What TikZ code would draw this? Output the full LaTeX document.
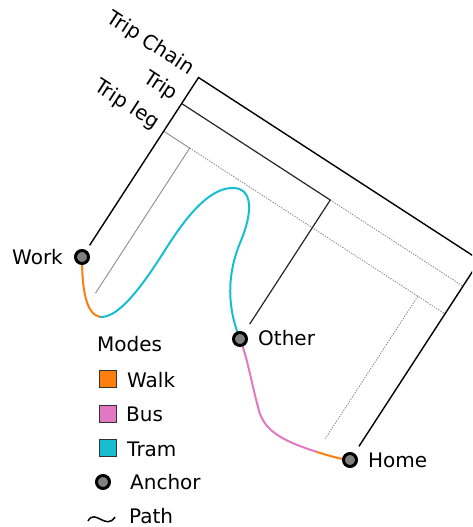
\documentclass[tikz,border=0pt]{standalone}
\usepackage{fontspec}
\setmainfont{DejaVu Sans}
\definecolor{walkc}{HTML}{FF7F0E}
\definecolor{busc}{HTML}{E377C2}
\definecolor{tramc}{HTML}{17BECF}
\definecolor{anchorfill}{HTML}{7F7F7F}
\begin{document}
\begin{tikzpicture}[x=1pt,y=-1pt,font=\fontsize{20}{24}\selectfont,
  anchorpt/.style={circle,draw=black,line width=3pt,fill=anchorfill,minimum size=13pt,inner sep=0pt},
  lbl/.style={inner sep=0pt},
  lvl/.style={inner sep=0pt,anchor=east,rotate=-33},
  chainln/.style={black,line width=1.4pt},
  tripln/.style={black!85,line width=1.2pt},
  legln/.style={black!45,line width=0.9pt},
  dotln/.style={black!50,line width=0.8pt,dash pattern=on 1.3pt off 1.3pt},
  modeln/.style={line width=2pt},
  sq/.style={draw=black!80,line width=1pt,minimum size=17pt,inner sep=0pt}]
\useasboundingbox (0,0) rectangle (472,527);
\clip (0,0) rectangle (472,527);
% anchor positions
\coordinate (pW) at (82,257);
\coordinate (pO) at (240,339);
\coordinate (pH) at (350,460);
% hierarchy brackets in the rotated frame
\begin{scope}[shift={(82,257)}]
\begin{scope}[x={(0.8387pt,-0.5446pt)},y={(0.5446pt,0.8387pt)}]
  \coordinate (cbl) at (0,14);
  \coordinate (ctl) at (0,214);
  \coordinate (ctr) at (335.4,214);
  \coordinate (cbr) at (335.4,-8);
  \coordinate (tl) at (0,183);
  \coordinate (tm) at (177.2,183);
  \coordinate (tmb) at (177.2,35);
  \coordinate (tr) at (335.4,183);
  \coordinate (ll) at (0,150);
  \coordinate (l1) at (31,150);
  \coordinate (l1b) at (31,-23);
  \coordinate (l3) at (303,150);
  \coordinate (l3b) at (303,-20);
  \coordinate (lr) at (335.4,150);
  \draw[legln] (ll) -- (l1) -- (l1b);
  \draw[dotln] (l1) -- (lr);
  \draw[dotln] (l3) -- (l3b);
  \draw[dotln] (tm) -- (tr);
  \draw[tripln] (tl) -- (tm) -- (tmb);
  \draw[chainln] (cbl) -- (ctl) -- (ctr) -- (cbr);
  \node[lvl] (labchain) at (-9,216) {Trip Chain};
  \node[lvl] (labtrip) at (-9,186) {Trip};
  \node[lvl] (lableg) at (-9,152) {Trip leg};
\end{scope}
\end{scope}
% path
\draw[modeln,walkc] (pW) .. controls (82,290) and (86,314) .. (100,317) coordinate (m1);
\draw[modeln,tramc] (m1) .. controls (118,318) and (140,290) .. (167,247)
   .. controls (195,203) and (215,188) .. (233,188)
   .. controls (252,188) and (254,210) .. (240,243)
   .. controls (228,272) and (226,305) .. (pO);
\draw[modeln,busc] (pO) .. controls (247,356) and (252,385) .. (258,407)
   .. controls (263,430) and (280,440) .. (317,452) coordinate (m2);
\draw[modeln,walkc] (m2) .. controls (330,456) and (340,459) .. (pH);
% anchors
\node[anchorpt] (work) at (pW) {};
\node[anchorpt] (other) at (pO) {};
\node[anchorpt] (home) at (pH) {};
\node[lbl,anchor=east] (worklab) at (63,257) {Work};
\node[lbl,anchor=west] (otherlab) at (258,338) {Other};
\node[lbl,anchor=west] (homelab) at (368,460) {Home};
% legend
\node[lbl,anchor=west] (modes) at (97,344) {Modes};
\node[sq,fill=walkc] (sqw) at (108,379) {};
\node[lbl,anchor=west] (tw) at (127,380) {Walk};
\node[sq,fill=busc] (sqb) at (108,414) {};
\node[lbl,anchor=west] (tb) at (126,414) {Bus};
\node[sq,fill=tramc] (sqt) at (108,448) {};
\node[lbl,anchor=west] (tt) at (127,449) {Tram};
\node[anchorpt] (la) at (103,482) {};
\node[lbl,anchor=west] (ta) at (130,482) {Anchor};
\draw[line width=1.5pt] (88,521) .. controls (95,508) and (106,531) .. (115,517);
\node[lbl,anchor=west] (tp) at (129,516) {Path};
\end{tikzpicture}
\end{document}
